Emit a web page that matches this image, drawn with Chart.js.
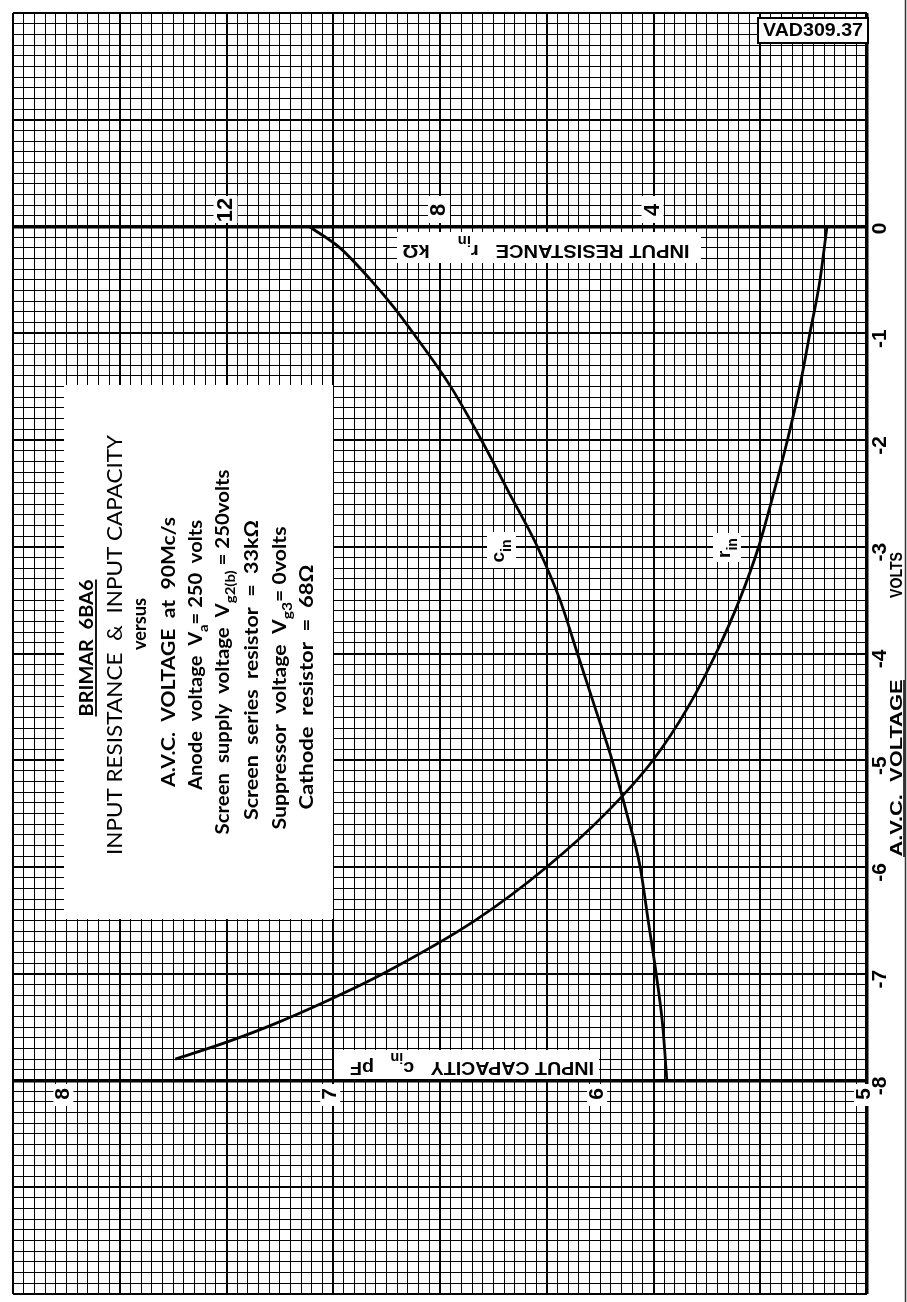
<!DOCTYPE html>
<html><head><meta charset="utf-8">
<script src="https://cdn.jsdelivr.net/npm/chart.js@4.4.1/dist/chart.umd.min.js"></script>
<style>html,body{margin:0;padding:0;background:#fff;}canvas{display:block;}</style>
</head><body>
<canvas id="c" width="907" height="1302"></canvas>
<script>
// A.V.C. voltage (V) and input capacity c_in (pF)
const VOLTS_C = [0, -0.2, -0.5, -0.75, -1, -1.5, -2, -2.5, -3, -3.5, -4, -4.5, -5, -5.5, -6, -6.5, -7, -7.5, -8];
const CIN     = [7.09, 6.975, 6.86, 6.775, 6.70, 6.56, 6.445, 6.34, 6.235, 6.15, 6.085, 6.02, 5.955, 5.9, 5.85, 5.82, 5.79, 5.765, 5.75];
// A.V.C. voltage (V) and input resistance r_in (kOhm)
const VOLTS_R = [0, -0.5, -1, -1.5, -2, -2.5, -3, -3.5, -4, -4.5, -5, -5.5, -6, -6.5, -7, -7.25, -7.5, -7.65, -7.8];
const RIN     = [0.75, 0.88, 1.07, 1.26, 1.49, 1.75, 2.03, 2.39, 2.83, 3.35, 4.01, 4.9, 6.0, 7.34, 9.07, 10.1, 11.25, 12.05, 12.96];
// tick labels
const VOLT_TICKS = [0, -1, -2, -3, -4, -5, -6, -7, -8];
const RES_TICKS = [12, 8, 4];
const CAP_TICKS = [8, 7, 6, 5];

const near = (v, m) => Math.abs(v / m - Math.round(v / m)) < 1e-6;

function rt(ctx, pieces, cx, cy, ang, len, size, opt) {
  opt = opt || {};
  const fam = opt.family || 'Lato, "Liberation Sans", sans-serif';
  const wt = opt.weight || 'bold';
  const fMain = wt + ' ' + size + 'px ' + fam;
  const fSub = wt + ' ' + Math.round(size * 0.72) + 'px ' + fam;
  ctx.save();
  ctx.translate(cx, cy);
  ctx.rotate(ang);
  let total = 0;
  const ws = pieces.map(p => { ctx.font = p[1] ? fSub : fMain; const w = ctx.measureText(p[0]).width; total += w; return w; });
  const sx = len ? len / total : 1;
  ctx.scale(sx, 1);
  ctx.fillStyle = '#000';
  ctx.textBaseline = 'middle';
  ctx.textAlign = 'left';
  let x = -total / 2;
  pieces.forEach((p, i) => {
    ctx.font = p[1] ? fSub : fMain;
    ctx.fillText(p[0], x, p[1] ? size * (opt.subOff || 0.42) : 0);
    x += ws[i];
  });
  if (opt.underline) {
    ctx.lineWidth = 1.8; ctx.strokeStyle = '#000';
    ctx.beginPath(); ctx.moveTo(-total / 2, size * 0.5); ctx.lineTo(total / 2, size * 0.5); ctx.stroke();
  }
  ctx.restore();
}

function wbox(ctx, x0, y0, x1, y1, border) {
  ctx.fillStyle = '#fff';
  ctx.fillRect(x0, y0, x1 - x0, y1 - y0);
  if (border) { ctx.lineWidth = border; ctx.strokeStyle = '#000'; ctx.strokeRect(x0, y0, x1 - x0, y1 - y0); }
}

const UP = -Math.PI / 2, FLIP = Math.PI;
const LAB = '"Liberation Sans", Arial, sans-serif';

const paper = {
  id: 'paper',
  afterDraw(chart) {
    const ctx = chart.ctx, X = chart.scales.x, XC = chart.scales.xc, Y = chart.scales.y;
    // page edge
    ctx.save(); ctx.strokeStyle = '#333'; ctx.lineWidth = 1.5;
    ctx.beginPath(); ctx.moveTo(905.5, 0); ctx.lineTo(905.5, 1302); ctx.stroke(); ctx.restore();

    // text panel
    wbox(ctx, 64, 385, 333, 919);
    rt(ctx, [['BRIMAR  6BA6']], 86.5, 648, UP, 137, 19, {underline: true});
    rt(ctx, [['INPUT RESISTANCE  &  INPUT CAPACITY']], 115, 645, UP, 420, 21, {weight: 'normal'});
    rt(ctx, [['versus']], 140, 624, UP, 52, 19);
    rt(ctx, [['A.V.C.  VOLTAGE  at  90Mc/s']], 169, 652, UP, 270, 19);
    rt(ctx, [['Anode  voltage  V'], ['a', 1], ['= 250  volts']], 196, 655, UP, 270, 19);
    rt(ctx, [['Screen  supply  voltage  V'], ['g2(b)', 1], [' = 250volts']], 223, 652, UP, 365, 19);
    rt(ctx, [['Screen  series  resistor  =  33kΩ']], 252, 670, UP, 300, 19);
    rt(ctx, [['Suppressor  voltage  V'], ['g3', 1], ['= 0volts']], 280, 678, UP, 303, 19);
    rt(ctx, [['Cathode  resistor  =  68Ω']], 307, 687, UP, 245, 19);

    // axis titles (upside down)
    wbox(ctx, 397, 232, 701, 263);
    rt(ctx, [['INPUT RESISTANCE   r'], ['in', 1], ['     kΩ']], 546, 250.5, FLIP, 287, 19, {family: LAB, subOff: 0.55});
    wbox(ctx, 334, 1050, 599, 1079);
    rt(ctx, [['INPUT CAPACITY   c'], ['in', 1], ['   pF']], 472, 1067.5, FLIP, 244, 19, {family: LAB, subOff: 0.55});

    // resistance tick labels
    RES_TICKS.forEach(v => {
      const px = X.getPixelForValue(v) - 1;
      const w = String(v).length > 1 ? 24 : 22;
      wbox(ctx, px - w / 2, 196, px + w / 2, 223);
      rt(ctx, [[String(v)]], px, 210, UP, 0, 22, {family: LAB});
    });
    // capacity tick labels
    CAP_TICKS.forEach(v => {
      const px = XC.getPixelForValue(v) - 3;
      wbox(ctx, px - 10, 1084, px + 10, 1106);
      rt(ctx, [[String(v)]], px, 1094, UP, 0, 21, {family: LAB});
    });
    // voltage tick labels (right side)
    VOLT_TICKS.forEach(v => {
      const py = Y.getPixelForValue(v);
      const s = String(v);
      ctx.save();
      ctx.translate(880, py);
      ctx.rotate(UP);
      ctx.font = 'bold 21px ' + LAB;
      ctx.fillStyle = '#000'; ctx.textBaseline = 'middle'; ctx.textAlign = 'right';
      const dw = ctx.measureText(s.slice(-1)).width;
      ctx.fillText(s, -2 + dw / 2, 0);
      ctx.restore();
    });
    rt(ctx, [['VOLTS']], 897, 575, UP, 46, 17, {family: LAB});
    rt(ctx, [['A.V.C.  VOLTAGE']], 897, 768, UP, 177, 17, {family: LAB});
    ctx.save(); ctx.strokeStyle = '#000'; ctx.lineWidth = 1.5;
    ctx.beginPath(); ctx.moveTo(904, 680); ctx.lineTo(904, 857); ctx.stroke(); ctx.restore();

    // curve labels
    wbox(ctx, 487, 532, 516, 568);
    rt(ctx, [['c'], ['in', 1]], 499, 551, UP, 0, 19, {family: LAB});
    wbox(ctx, 713, 533, 741, 562);
    rt(ctx, [['r'], ['in', 1]], 725, 548, UP, 0, 19, {family: LAB});

    // drawing number
    wbox(ctx, 758, 18, 868, 43, 2);
    rt(ctx, [['VAD309.37']], 813, 31, 0, 100, 19, {family: LAB});
  }
};

const gridOpts = (isMajor, isAxis) => ({
  drawTicks: false,
  color: '#000',
  lineWidth: ctx => {
    if (!ctx.tick) return 1;
    const v = ctx.tick.value;
    if (isAxis(v)) return 3.5;
    return isMajor(v) ? 2 : 1;
  }
});

new Chart(document.getElementById('c'), {
  type: 'scatter',
  data: {
    datasets: [
      { label: 'c_in', data: VOLTS_C.map((v, i) => ({x: CIN[i], y: v})), xAxisID: 'xc', yAxisID: 'y',
        showLine: true, borderColor: '#000', borderWidth: 2.8, pointRadius: 0, cubicInterpolationMode: 'monotone', fill: false },
      { label: 'r_in', data: VOLTS_R.map((v, i) => ({x: RIN[i], y: v})), xAxisID: 'x', yAxisID: 'y',
        showLine: true, borderColor: '#000', borderWidth: 2.8, pointRadius: 0, cubicInterpolationMode: 'monotone', fill: false }
    ]
  },
  options: {
    responsive: false, animation: false, devicePixelRatio: 1,
    layout: { padding: { left: 13, top: 13, right: 40, bottom: 8 } },
    plugins: { legend: { display: false }, tooltip: { enabled: false } },
    scales: {
      x: { type: 'linear', position: 'top', min: 0, max: 16, reverse: true,
           ticks: { display: false, stepSize: 0.2, autoSkip: false },
           grid: gridOpts(v => near(v, 2), v => Math.abs(v) < 1e-6),
           border: { display: false } },
      xc: { type: 'linear', position: 'bottom', min: 5, max: 8.2, reverse: true, display: false },
      y: { type: 'linear', position: 'right', min: -10, max: 2,
           ticks: { display: false, stepSize: 0.1, autoSkip: false },
           grid: gridOpts(v => near(v, 1), v => Math.abs(v) < 1e-6 || Math.abs(v + 8) < 1e-6),
           border: { display: false } }
    }
  },
  plugins: [paper]
});
</script>
</body></html>
